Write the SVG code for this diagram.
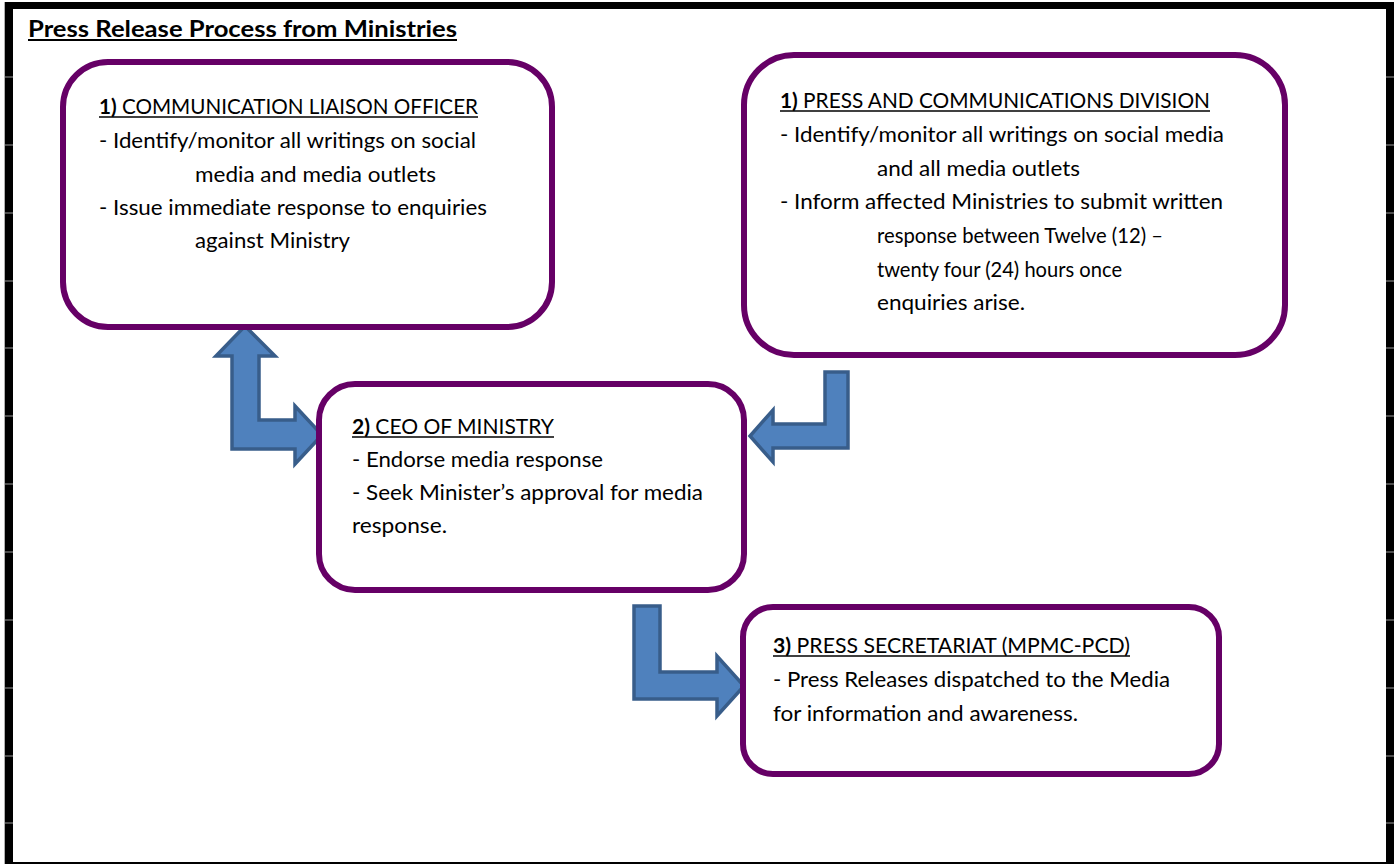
<svg xmlns="http://www.w3.org/2000/svg" width="1399" height="865" viewBox="0 0 1399 865">
<style>
.t{font-family:Lato,"Liberation Sans",sans-serif;font-size:21px;fill:#000}
.b{font-weight:bold}
.ttl{font-family:Lato,"Liberation Sans",sans-serif;font-size:22px;font-weight:bold;fill:#000}
.box{fill:#fff;stroke:#660066;stroke-width:6}
.ul{stroke:#000;stroke-width:1.6}
.arr{fill:#4F81BD;stroke:#385D8A;stroke-width:3.5;stroke-linejoin:miter}
.sep{stroke:#9a9a9a;stroke-width:1}
</style>
<rect x="0" y="0" width="1399" height="865" fill="#fff"/>
<g id="frame">
<line x1="4.5" y1="2" x2="4.5" y2="864" stroke="#b0b0b0" stroke-width="1"/>
<rect x="5" y="2" width="8" height="862" fill="#000"/>
<rect x="5" y="2" width="1389" height="7" fill="#000"/>
<rect x="1386" y="2" width="8" height="862" fill="#000"/>
<rect x="13" y="862" width="1381" height="2" fill="#000"/>
<g class="sep">
<line x1="5" y1="77" x2="13" y2="77"/><line x1="5" y1="145" x2="13" y2="145"/><line x1="5" y1="213" x2="13" y2="213"/><line x1="5" y1="281" x2="13" y2="281"/><line x1="5" y1="348" x2="13" y2="348"/><line x1="5" y1="416" x2="13" y2="416"/><line x1="5" y1="484" x2="13" y2="484"/><line x1="5" y1="552" x2="13" y2="552"/><line x1="5" y1="620" x2="13" y2="620"/><line x1="5" y1="688" x2="13" y2="688"/><line x1="5" y1="756" x2="13" y2="756"/><line x1="5" y1="823" x2="13" y2="823"/>
<line x1="1386" y1="77" x2="1394" y2="77"/><line x1="1386" y1="145" x2="1394" y2="145"/><line x1="1386" y1="213" x2="1394" y2="213"/><line x1="1386" y1="281" x2="1394" y2="281"/><line x1="1386" y1="348" x2="1394" y2="348"/><line x1="1386" y1="416" x2="1394" y2="416"/><line x1="1386" y1="484" x2="1394" y2="484"/><line x1="1386" y1="552" x2="1394" y2="552"/><line x1="1386" y1="620" x2="1394" y2="620"/><line x1="1386" y1="688" x2="1394" y2="688"/><line x1="1386" y1="756" x2="1394" y2="756"/><line x1="1386" y1="823" x2="1394" y2="823"/>
</g>
</g>
<g id="title">
<text class="ttl" x="28" y="37" textLength="429" lengthAdjust="spacingAndGlyphs">Press Release Process from Ministries</text>
<line x1="28" y1="40" x2="457" y2="40" stroke="#000" stroke-width="2"/>
</g>
<g id="connectors">
<path class="arr" d="M245,326 L275,356 L259,356 L259,420 L295,420 L295,406 L322,435 L295,464 L295,449 L232,449 L232,356 L216,356 Z"/>
<path class="arr" d="M825,372 L848,372 L848,448 L773,448 L773,462 L750,436 L773,410 L773,424 L825,424 Z"/>
<path class="arr" d="M634,606 L660,606 L660,672 L717,672 L717,656 L744,686 L717,716 L717,699 L634,699 Z"/>
</g>
<g id="node-clo">
<rect class="box" x="63" y="62" width="489" height="265" rx="45"/>
<text class="t" x="99" y="114" textLength="379" lengthAdjust="spacingAndGlyphs"><tspan class="b">1)</tspan> COMMUNICATION LIAISON OFFICER</text>
<line class="ul" x1="99" y1="117" x2="478" y2="117"/>
<text class="t" x="99" y="148" textLength="377" lengthAdjust="spacingAndGlyphs">- Identify/monitor all writings on social</text>
<text class="t" x="195" y="182" textLength="241" lengthAdjust="spacingAndGlyphs">media and media outlets</text>
<text class="t" x="99" y="215" textLength="388" lengthAdjust="spacingAndGlyphs">- Issue immediate response to enquiries</text>
<text class="t" x="195" y="248" textLength="155" lengthAdjust="spacingAndGlyphs">against Ministry</text>
</g>
<g id="node-pcd">
<rect class="box" x="744" y="55" width="541" height="300" rx="50"/>
<text class="t" x="780" y="108" textLength="430" lengthAdjust="spacingAndGlyphs"><tspan class="b">1)</tspan> PRESS AND COMMUNICATIONS DIVISION</text>
<line class="ul" x1="780" y1="111" x2="1210" y2="111"/>
<text class="t" x="780" y="142" textLength="444" lengthAdjust="spacingAndGlyphs">- Identify/monitor all writings on social media</text>
<text class="t" x="877" y="176" textLength="203" lengthAdjust="spacingAndGlyphs">and all media outlets</text>
<text class="t" x="780" y="209" textLength="443" lengthAdjust="spacingAndGlyphs">- Inform affected Ministries to submit written</text>
<text class="t" x="877" y="243" textLength="286" lengthAdjust="spacingAndGlyphs">response between Twelve (12) –</text>
<text class="t" x="877" y="277" textLength="245" lengthAdjust="spacingAndGlyphs">twenty four (24) hours once</text>
<text class="t" x="877" y="310" textLength="148" lengthAdjust="spacingAndGlyphs">enquiries arise.</text>
</g>
<g id="node-ceo">
<rect class="box" x="319" y="384" width="425" height="206" rx="36"/>
<text class="t" x="352" y="434" textLength="202" lengthAdjust="spacingAndGlyphs"><tspan class="b">2)</tspan> CEO OF MINISTRY</text>
<line class="ul" x1="352" y1="437" x2="554" y2="437"/>
<text class="t" x="352" y="467" textLength="251" lengthAdjust="spacingAndGlyphs">- Endorse media response</text>
<text class="t" x="352" y="500" textLength="351" lengthAdjust="spacingAndGlyphs">- Seek Minister’s approval for media</text>
<text class="t" x="352" y="533" textLength="95" lengthAdjust="spacingAndGlyphs">response.</text>
</g>
<g id="node-ps">
<rect class="box" x="743" y="607" width="476" height="167" rx="30"/>
<text class="t" x="773" y="653" textLength="357" lengthAdjust="spacingAndGlyphs"><tspan class="b">3)</tspan> PRESS SECRETARIAT (MPMC-PCD)</text>
<line class="ul" x1="773" y1="656" x2="1130" y2="656"/>
<text class="t" x="773" y="687" textLength="397" lengthAdjust="spacingAndGlyphs">- Press Releases dispatched to the Media</text>
<text class="t" x="773" y="721" textLength="305" lengthAdjust="spacingAndGlyphs">for information and awareness.</text>
</g>
</svg>
